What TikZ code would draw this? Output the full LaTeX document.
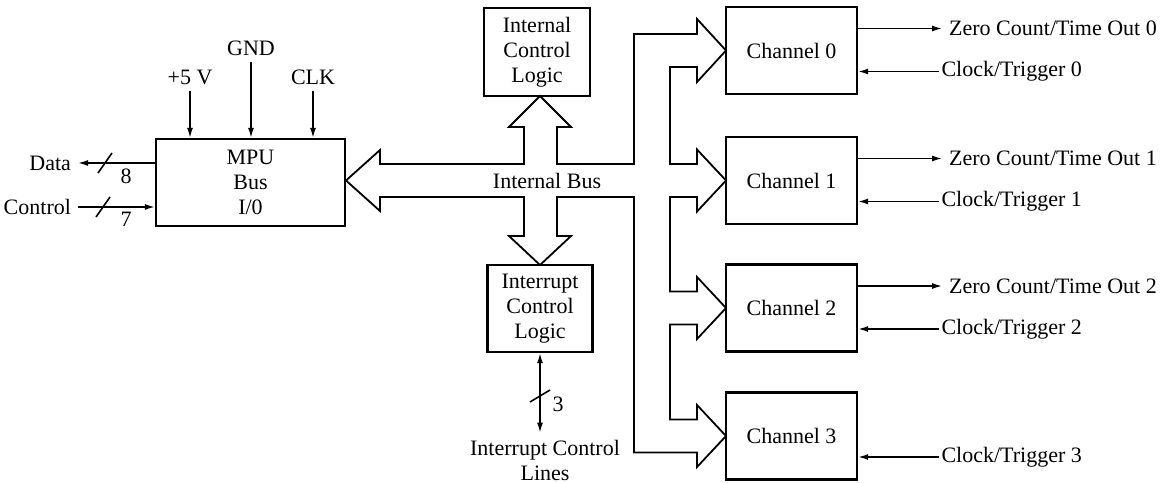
\documentclass[tikz,border=0pt]{standalone}
\usepackage{fontspec}
\setmainfont{Liberation Serif}
\usetikzlibrary{arrows.meta,calc}

\tikzset{
  blk/.style={draw, line width=1.1pt, align=center, inner sep=0pt},
  sig/.style={line width=0.8pt, -{Latex[length=5pt,width=3pt]}},
}

\begin{document}
\begin{tikzpicture}[x=0.5pt,y=-0.5pt,font=\fontsize{11}{12.5}\selectfont]
    \useasboundingbox (0,0) rectangle (1170,482);

    % blocks
    \node[blk, minimum width=94.5pt, minimum height=43.5pt] (mpu) at (250.5,182.5) {MPU\\Bus\\I/0};
    \node[blk, minimum width=53pt, minimum height=44pt] (icl) at (537,52) {Internal\\Control\\Logic};
    \node[blk, minimum width=52.5pt, minimum height=43.5pt] (irq) at (540,308.5) {Interrupt\\Control\\Logic};
    \foreach \i/\y in {0/50.5,1/180.5,2/308,3/436}
        \node[blk, minimum width=65.5pt, minimum height=43.5pt] (ch\i) at (791.5,\y) {Channel \i};

    % internal bus
    \draw[line width=0.9pt] (346,180.5) -- (380,150) -- (380,164) -- (524,164) -- (524,127)
        -- (509,127) -- (540,96) -- (571,127) -- (557,127) -- (557,164) -- (634,164) -- (634,34)
        -- (697,34) -- (697,19) -- (726,50.5) -- (697,82) -- (697,67) -- (670,67) -- (670,164)
        -- (697,164) -- (697,149.5) -- (726,180.5) -- (697,211.5) -- (697,197) -- (670,197)
        -- (670,291.5) -- (697,291.5) -- (697,277) -- (726,308) -- (697,339) -- (697,324.5)
        -- (670,324.5) -- (670,419.5) -- (697,419.5) -- (697,405) -- (726,436) -- (697,467)
        -- (697,452.5) -- (634,452.5) -- (634,197) -- (557,197) -- (557,236) -- (571,236)
        -- (540,265) -- (509,236) -- (524,236) -- (524,197) -- (380,197) -- (380,211) -- cycle;
    \node (ibus) at (547,181) {Internal Bus};

    % supply and clock
    \node (vcc) at (190,77) {+5 V};
    \node (gnd) at (251,48) {GND};
    \node (clk) at (313,77) {CLK};
    \foreach \n in {vcc,gnd,clk}
        \draw[sig] (\n.south) -- (\n.south |- mpu.north);

    % data and control
    \node[anchor=east] (data) at (78,163) {Data};
    \draw[sig] (mpu.west |- data.east) -- (data.east);
    \draw[line width=0.8pt] (105,163) +(-7,10) -- +(7,-10);
    \node (n8) at (126,176) {8};
    \node[anchor=east] (ctrl) at (78,207) {Control};
    \draw[sig] (ctrl.east) -- (ctrl.east -| mpu.west);
    \draw[line width=0.8pt] (103,207) +(-7,10) -- +(7,-10);
    \node (n7) at (126,219) {7};

    % interrupt lines
    \node[align=center] (irqln) at (545,460) {Interrupt Control\\Lines};
    \draw[line width=0.8pt, {Latex[length=5pt,width=3pt]}-{Latex[length=5pt,width=3pt]}] (irq.south) -- (irq.south |- irqln.north);
    \draw[line width=0.8pt] (540,396) +(-10,6) -- +(10,-6);
    \node (n3) at (558,404) {3};

    % channel outputs
    \foreach \i in {0,1,2} {
        \node[anchor=west] (zc\i) at ($(ch\i.east)+(84,-22)$) {Zero Count/Time Out \i};
        \draw[sig] (zc\i.west -| ch\i.east) -- (zc\i.west);
    }
    \foreach \i in {0,...,3} {
        \node[anchor=west, inner xsep=1pt] (ct\i) at ($(ch\i.east)+(81,21)$) {Clock/Trigger \i};
        \draw[sig] (ct\i.west) -- (ct\i.west -| ch\i.east);
    }
\end{tikzpicture}
\end{document}
